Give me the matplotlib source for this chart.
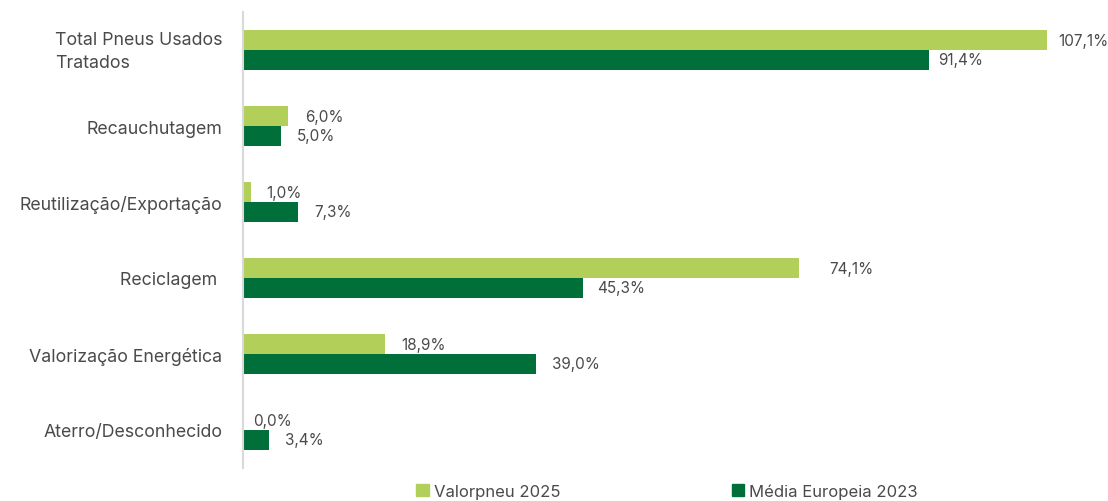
import matplotlib
matplotlib.use("Agg")
import matplotlib.pyplot as plt
import matplotlib.transforms as mtransforms
from matplotlib.patches import Patch
import numpy as np

# ----------------- DADOS -----------------
categorias = ["Total Pneus Usados\nTratados", "Recauchutagem", "Reutilização/Exportação",
              "Reciclagem ", "Valorização Energética", "Aterro/Desconhecido"]
valorpneu_2025 = [107.1, 6.0, 1.0, 74.1, 18.9, 0.0]
media_europeia_2023 = [91.4, 5.0, 7.3, 45.3, 39.0, 3.4]
series = ["Valorpneu 2025", "Média Europeia 2023"]

# afastamento dos rótulos (pontos)
desloc_claro = [8, 12, 11, 22, 12, 7]
desloc_escuro = [7, 12, 12, 10, 12, 12]

COR_CLARA = "#B2CF5A"
COR_ESCURA = "#006F3A"
COR_TEXTO = "#4A4A4A"

plt.rcParams['font.family'] = ['Inter', 'DejaVu Sans']

fig = plt.figure(figsize=(11.08, 5.02), dpi=100)
ax = fig.add_axes([243 / 1108, 33 / 502, 863 / 1108, 456 / 502])

y = np.arange(len(categorias))
h = 0.26
b1 = ax.barh(y - h / 2, valorpneu_2025, height=h, color=COR_CLARA)
b2 = ax.barh(y + h / 2, media_europeia_2023, height=h, color=COR_ESCURA)

for i, (v1, v2) in enumerate(zip(valorpneu_2025, media_europeia_2023)):
    ax.annotate(f"{v1:.1f}%".replace(".", ","), (v1, y[i] - h / 2),
                xytext=(desloc_claro[i], 0), textcoords="offset points",
                va="center", ha="left", fontsize=11, color=COR_TEXTO)
    ax.annotate(f"{v2:.1f}%".replace(".", ","), (v2, y[i] + h / 2),
                xytext=(desloc_escuro[i], 0), textcoords="offset points",
                va="center", ha="left", fontsize=11, color=COR_TEXTO)

ax.set_xlim(0, 115)
ax.set_ylim(len(categorias) - 0.5, -0.5)
ax.set_yticks(y)
ax.set_yticklabels(categorias, fontsize=12.8, color=COR_TEXTO, linespacing=1.45)
for t in ax.get_yticklabels():
    t.set_multialignment("left")
ax.tick_params(axis="y", length=0, pad=15)
ax.set_xticks([])

# rótulo de duas linhas um pouco mais acima
lbl = ax.get_yticklabels()[0]
lbl.set_transform(lbl.get_transform() + mtransforms.ScaledTranslation(0, 4 / 100, fig.dpi_scale_trans))

for lado in ["top", "right", "bottom"]:
    ax.spines[lado].set_visible(False)
ax.spines["left"].set_color("#D9D9D9")
ax.spines["left"].set_linewidth(1.5)

handles = [Patch(color=COR_CLARA), Patch(color=COR_ESCURA)]
fig.legend(handles, series, loc="center", bbox_to_anchor=(667 / 1108, 1 - 492 / 502),
           ncol=2, frameon=False, fontsize=12, labelcolor=COR_TEXTO,
           handlelength=0.75, handleheight=0.75, handletextpad=0.3, columnspacing=10.3)

fig.savefig("out.png", dpi=100)
